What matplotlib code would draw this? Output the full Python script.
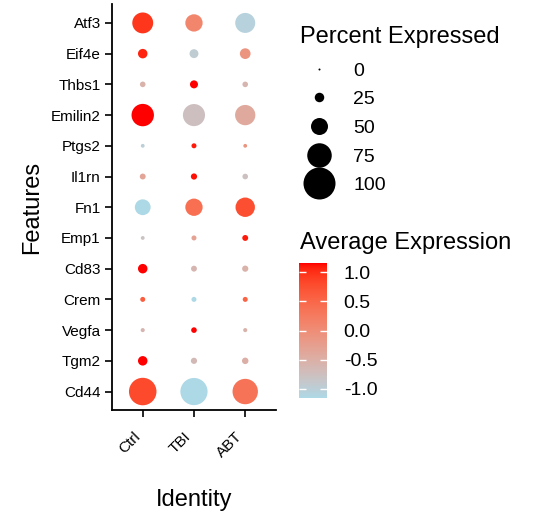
import numpy as np
import matplotlib
matplotlib.use('Agg')
import matplotlib.pyplot as plt
from matplotlib.colors import ListedColormap, Normalize
from matplotlib.lines import Line2D

plt.rcParams['font.family'] = ['Liberation Sans', 'DejaVu Sans']
plt.rcParams['axes.unicode_minus'] = False

# ---- data ----
features = ['Atf3', 'Eif4e', 'Thbs1', 'Emilin2', 'Ptgs2', 'Il1rn', 'Fn1',
            'Emp1', 'Cd83', 'Crem', 'Vegfa', 'Tgm2', 'Cd44']
groups = ['Ctrl', 'TBI', 'ABT']

# percent expressed, rows = features, cols = groups
pct_exp = [
    [63, 51, 60],
    [25, 23, 29],
    [12, 20, 12],
    [68, 67, 61],
    [6, 10, 6],
    [13, 14, 12],
    [46, 51, 58],
    [6, 10, 13],
    [25, 13, 14],
    [10, 10, 10],
    [7, 12, 7],
    [25, 14, 15],
    [85, 84, 78],
]
# scaled average expression
avg_exp = [
    [0.95, 0.10, -1.05],
    [1.05, -0.95, -0.10],
    [-0.55, 1.15, -0.60],
    [1.15, -0.75, -0.40],
    [-1.00, 1.10, -0.10],
    [-0.35, 1.12, -0.77],
    [-1.15, 0.40, 0.75],
    [-0.80, -0.30, 1.10],
    [1.15, -0.60, -0.55],
    [0.60, -1.15, 0.55],
    [-0.60, 1.15, -0.55],
    [1.15, -0.65, -0.50],
    [0.80, -1.15, 0.35],
]
size_breaks = [0, 25, 50, 75, 100]
color_ticks = [1.0, 0.5, 0.0, -0.5, -1.0]


# ---- lightblue -> red gradient interpolated in CIELAB (like ggplot) ----
M = np.array([[0.4124, 0.3576, 0.1805],
              [0.2126, 0.7152, 0.0722],
              [0.0193, 0.1192, 0.9505]])
WHITE = np.array([0.95047, 1.0, 1.08883])


def to_lab(c):
    c = np.asarray(c, float)
    lin = np.where(c <= 0.04045, c / 12.92, ((c + 0.055) / 1.055) ** 2.4)
    xyz = M @ lin / WHITE
    f = np.where(xyz > 0.008856, np.cbrt(xyz), 7.787 * xyz + 16 / 116)
    return np.array([116 * f[1] - 16, 500 * (f[0] - f[1]), 200 * (f[1] - f[2])])


def from_lab(lab):
    fy = (lab[:, 0] + 16) / 116
    fx = fy + lab[:, 1] / 500
    fz = fy - lab[:, 2] / 200
    f = np.stack([fx, fy, fz], -1)
    xyz = np.where(f > 0.2069, f ** 3, (f - 16 / 116) / 7.787) * WHITE
    lin = xyz @ np.linalg.inv(M).T
    lin = np.clip(lin, 0, None)
    rgb = np.where(lin <= 0.0031308, 12.92 * lin, 1.055 * lin ** (1 / 2.4) - 0.055)
    return np.clip(rgb, 0, 1)


low = to_lab([173 / 255, 216 / 255, 230 / 255])
high = to_lab([1.0, 0.0, 0.0])
t = np.linspace(0, 1, 256)[:, None]
cmap = ListedColormap(from_lab(low + t * (high - low)))
lim = 2 / np.sqrt(3)
norm = Normalize(-lim, lim)


def diam_pt(p):
    # dot diameter in points (radius scales linearly with percent)
    return (2.0 + 0.30 * np.asarray(p, float)) * 0.72


# ---- figure ----
fig = plt.figure(figsize=(5.34, 5.29), dpi=100)
ax = fig.add_axes([0.2097, 0.2250, 0.3071, 0.7665])

pct = np.array(pct_exp)
avg = np.array(avg_exp)
nf = len(features)
xx, yy = np.meshgrid(np.arange(1, len(groups) + 1), nf - np.arange(nf))
ax.scatter(xx.ravel(), yy.ravel(), s=diam_pt(pct.ravel()) ** 2,
           c=avg.ravel(), cmap=cmap, norm=norm, linewidths=0)

ax.set_xlim(0.4, len(groups) + 0.6)
ax.set_ylim(0.4, nf + 0.6)
ax.set_xticks(np.arange(1, len(groups) + 1))
ax.set_xticklabels(groups, rotation=45, ha='right', va='top', fontsize=11)
ax.set_yticks(nf - np.arange(nf))
ax.set_yticklabels(features, fontsize=11)
ax.tick_params(axis='both', length=5, width=1.2, color='black')
ax.tick_params(axis='x', pad=9)
ax.tick_params(axis='y', pad=3)
for s in ['top', 'right']:
    ax.spines[s].set_visible(False)
for s in ['left', 'bottom']:
    ax.spines[s].set_linewidth(1.3)
ax.set_xlabel('Identity', fontsize=17, labelpad=21)
ax.set_ylabel('Features', fontsize=17, labelpad=6)

# size legend
handles = [Line2D([], [], marker='o', linestyle='', color='black',
                  markeredgewidth=0, markersize=diam_pt(b)) for b in size_breaks]
leg = fig.legend(handles, [str(b) for b in size_breaks], title='Percent Expressed',
                 loc='upper left', bbox_to_anchor=(300 / 534, 1 - 26 / 529),
                 frameon=False, fontsize=14, title_fontsize=17, alignment='left',
                 borderpad=0, borderaxespad=0, handlelength=1.96,
                 handletextpad=0.77, labelspacing=0.57)
leg._legend_box.sep = 10

# color bar
cax = fig.add_axes([299 / 534, 1 - 398 / 529, 28 / 534, 135 / 529])
sm = plt.cm.ScalarMappable(norm=norm, cmap=cmap)
cb = fig.colorbar(sm, cax=cax, ticks=color_ticks, format='%.1f')
cb.outline.set_visible(False)
cax.tick_params(direction='in', color='white', left=True, right=True,
                length=5, width=1, labelsize=14, pad=12)
fig.text(300 / 534, 1 - 249 / 529, 'Average Expression', fontsize=17,
         ha='left', va='baseline')

fig.savefig('out.png', dpi=100)
